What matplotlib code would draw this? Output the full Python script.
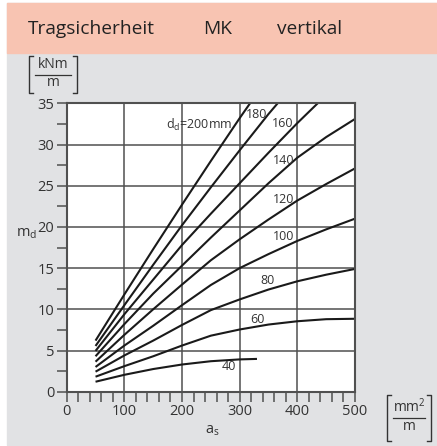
import numpy as np
import matplotlib
matplotlib.use("Agg")
import matplotlib.pyplot as plt
from matplotlib.patches import Rectangle
from matplotlib.lines import Line2D
from matplotlib.ticker import MultipleLocator

plt.rcParams['font.family'] = ['Open Sans', 'DejaVu Sans']
plt.rcParams['mathtext.fontset'] = 'custom'
plt.rcParams['mathtext.rm'] = 'Open Sans'
plt.rcParams['mathtext.it'] = 'Open Sans'

# --- Daten ---
x_pts = [50, 100, 150, 200, 250, 300, 350, 400, 450, 500]

x_40 = [50, 100, 150, 200, 250, 300, 330]
md_40 = [1.21, 2.05, 2.75, 3.30, 3.70, 3.92, 3.98]

md_60 = [1.82, 3.1, 4.3, 5.6, 6.8, 7.55, 8.15, 8.55, 8.8, 8.85]
md_80 = [2.43, 4.4, 6.2, 8.1, 9.9, 11.2, 12.4, 13.4, 14.2, 14.9]
md_100 = [3.0, 5.6, 8.0, 10.5, 12.95, 15.0, 16.7, 18.3, 19.7, 21.0]
md_120 = [3.64, 6.9, 10.0, 13.0, 15.95, 18.5, 20.9, 23.2, 25.2, 27.1]
md_140 = [4.3, 8.2, 11.9, 15.3, 18.7, 22.0, 25.3, 28.4, 30.9, 33.1]
md_160 = [4.95, 9.4, 13.6, 17.8, 21.6, 25.3, 29.0, 32.6, 36.0]
md_180 = [5.55, 10.5, 15.4, 20.2, 24.8, 29.3, 33.7, 37.8]
md_200 = [6.2, 11.8, 17.3, 22.7, 28.0, 33.2, 38.2]

kurven = [
    (x_40, md_40),
    (x_pts, md_60),
    (x_pts, md_80),
    (x_pts, md_100),
    (x_pts, md_120),
    (x_pts, md_140),
    (x_pts[:len(md_160)], md_160),
    (x_pts[:len(md_180)], md_180),
    (x_pts[:len(md_200)], md_200),
]

# Beschriftungen an den Kurven
label_texte = ['40', '60', '80', '100', '120', '140', '160', '180', r'd$_\mathrm{d}$=200mm']
label_x = [281, 331, 349, 376, 376, 377, 375, 330, 230]
label_y = [3.0, 8.8, 13.5, 18.8, 23.3, 28.1, 32.6, 33.7, 32.4]

# ==========================================
W, H = 437, 446
fig = plt.figure(figsize=(W / 100, H / 100), dpi=100, facecolor='white')


def fx(px):
    return px / W


def fy(py):
    return 1 - py / H


def einheit(x0, x1, y0, y1, zaehler, nenner):
    """Einheit als Bruch in eckigen Klammern (Pixelkoordinaten)"""
    c = '#333333'
    for xa, d in ((x0, 1), (x1, -1)):
        fig.lines.append(Line2D([fx(xa + 4 * d), fx(xa), fx(xa), fx(xa + 4 * d)],
                                [fy(y0), fy(y0), fy(y1), fy(y1)],
                                transform=fig.transFigure, color=c, lw=1.0))
    ym = (y0 + y1) / 2
    fig.lines.append(Line2D([fx(x0 + 6), fx(x1 - 6)], [fy(ym), fy(ym)],
                            transform=fig.transFigure, color=c, lw=0.9))
    xm = (x0 + x1) / 2
    fig.text(fx(xm), fy(ym - 2), zaehler, fontsize=10, color=c, ha='center', va='bottom')
    fig.text(fx(xm), fy(ym + 1), nenner, fontsize=10, color=c, ha='center', va='top')


# Hintergrund: grau + Kopfzeile
fig.patches.append(Rectangle((fx(7), fy(445)), (W - 7) / W, (445 - 3) / H,
                             transform=fig.transFigure, color='#e1e2e4', zorder=-2))
fig.patches.append(Rectangle((fx(7), fy(53)), (W - 7) / W, (53 - 3) / H,
                             transform=fig.transFigure, color='#f8c4b2', zorder=-1))

fig.text(fx(28), fy(29), 'Tragsicherheit', fontsize=13.8, color='#222222', va='center')
fig.text(fx(203), fy(29), 'MK', fontsize=13.8, color='#222222', va='center')
fig.text(fx(277), fy(29), 'vertikal', fontsize=13.8, color='#222222', va='center')

ax = fig.add_axes([fx(66.7), fy(391.7), (355 - 66.7) / W, (391.7 - 103.3) / H])
ax.set_facecolor('white')

for xs, ys in kurven:
    ax.plot(xs, ys, color='#1a1a1a', lw=1.5, solid_capstyle='butt', clip_on=True)

for t, lx, ly in zip(label_texte, label_x, label_y):
    ax.text(lx, ly, t, fontsize=9, color='#333333', ha='center', va='center')

ax.set_xlim(0, 500)
ax.set_ylim(0, 35)
ax.xaxis.set_major_locator(MultipleLocator(100))
ax.xaxis.set_minor_locator(MultipleLocator(20))
ax.yaxis.set_major_locator(MultipleLocator(5))
ax.yaxis.set_minor_locator(MultipleLocator(2.5))
ax.grid(True, which='major', color='#505050', lw=1.1)
ax.set_axisbelow(True)
ax.tick_params(which='both', direction='out', length=7, width=1.1, color='#505050',
               labelsize=10.5, labelcolor='#333333', pad=2)
for s in ax.spines.values():
    s.set_color('#505050')
    s.set_linewidth(1.5)

# Achsenbeschriftungen
einheit(29, 77, 56, 93, 'kNm', 'm')
einheit(387, 431, 395, 441, r'mm$^\mathrm{2}$', 'm')
fig.text(fx(27), fy(234), r'm$_\mathrm{d}$', fontsize=10.5, color='#333333',
         ha='center', va='center')
fig.text(fx(212), fy(431), r'a$_\mathrm{s}$', fontsize=10.5, color='#333333',
         ha='center', va='center')

fig.savefig('out.png', dpi=100, facecolor='white')
